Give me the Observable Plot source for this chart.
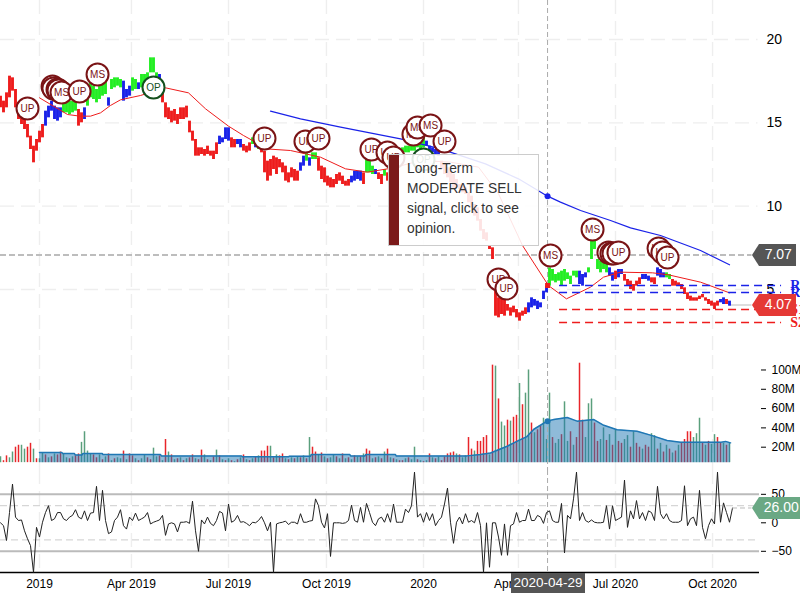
<!DOCTYPE html>
<html>
<head>
<meta charset="utf-8">
<script src="https://cdn.jsdelivr.net/npm/d3@7"></script>
<script src="https://cdn.jsdelivr.net/npm/@observablehq/plot@0.6"></script>
<style>
html,body{margin:0;padding:0;background:#fff}
#chart{position:relative;width:800px;height:600px;overflow:hidden;font-family:"Liberation Sans",Arial,sans-serif}
#tip{position:absolute;left:388px;top:154px;width:149px;height:90px;background:rgba(255,255,255,.88);border:1px solid #ccc;color:#333;font-size:13.8px;line-height:20px}
#tip i{position:absolute;left:0;top:0;bottom:0;width:10px;background:#7b1a1a}
#tip span{position:absolute;left:18px;top:4px;white-space:nowrap}
#date{position:absolute;left:511px;top:573px;width:74px;height:20px;background:#555;color:#fff;font-size:13.5px;line-height:20px;text-align:center}
</style>
</head>
<body>
<div id="chart">
<div id="tip"><i></i><span>Long-Term<br>MODERATE SELL<br>signal, click to see<br>opinion.</span></div>
<div id="date">2020-04-29</div>
</div>
<script>
// x is a session number; price, volume and oscillator are read every two sessions
const tickDays = [26, 87.3, 152, 217.3, 282, 345.3, 410, 474.7];
const tickLabels = ["2019","Apr 2019","Jul 2019","Oct 2019","2020","Apr 2020","Jul 2020","Oct 2020"];
const priceTicks = [5,10,15,20];
const volumeTicks = [20,40,60,80,100];
const oscTicks = [-50,0,50];

const lows = [
15.9,15.6,15.9,16.5,16.9,15.9,15.2,14.9,14.6,14.1,
13.4,12.6,13.3,13.8,14.1,14.8,15.3,15.7,15.2,15.1,
15.3,15.6,15.6,15.5,15.6,15.7,14.8,15.0,15.2,16.0,
16.5,16.4,16.2,16.4,16.6,16.7,16.0,17.0,17.1,17.2,
17.1,16.3,16.5,16.6,16.9,17.0,17.0,17.1,17.1,17.0,
18.0,18.0,17.4,17.0,16.2,15.3,15.2,15.0,15.1,14.9,
15.2,15.2,15.3,14.4,13.9,13.0,13.0,13.1,13.0,13.1,
13.0,12.8,13.1,13.7,13.8,14.0,13.9,13.5,13.5,13.7,
13.5,13.3,13.2,13.3,13.7,13.5,13.4,13.2,12.0,11.5,
11.8,12.2,11.9,12.3,12.0,11.5,11.4,11.7,11.5,11.5,
12.1,12.4,12.7,12.4,12.8,12.8,12.1,11.6,11.4,11.2,
11.1,11.1,11.3,11.5,11.3,11.2,11.2,11.4,11.5,11.6,
11.5,11.3,12.0,12.0,11.9,11.9,11.6,11.3,11.8,11.5,
11.4,11.3,11.5,13.0,13.0,13.2,13.2,13.3,13.3,13.5,
13.4,13.5,13.6,13.2,13.2,13.1,13.0,12.2,11.9,11.7,
11.4,11.0,11.1,11.0,10.8,10.7,10.2,9.9,9.4,9.1,
8.5,8.0,7.9,7.4,6.8,3.4,3.3,3.5,3.4,3.7,
3.4,3.6,3.3,3.1,3.4,3.5,3.6,3.9,4.0,3.8,
3.9,4.4,4.8,5.2,5.5,5.4,5.5,5.2,5.5,5.6,
5.3,5.8,5.7,5.3,5.2,5.7,6.0,6.8,7.4,6.2,
6.0,6.2,6.0,5.8,5.5,5.6,5.7,5.9,5.5,5.2,
5.0,4.9,5.2,5.3,5.6,5.6,5.5,5.4,5.3,5.8,
5.7,5.7,5.7,5.6,5.2,5.2,5.2,5.0,4.7,4.4,
4.3,4.3,4.3,4.4,4.5,4.3,4.1,4.0,3.8,4.0,
4.2,4.1,4.1,4.0];
const highs = [
16.6,16.3,16.8,17.8,17.7,17.0,16.2,15.6,15.3,14.9,
14.2,13.6,14.0,14.5,14.9,15.7,16.0,16.3,16.0,15.9,
15.9,16.1,16.2,16.3,16.3,16.4,15.8,15.6,15.9,17.2,
17.4,17.2,17.0,17.3,17.4,17.7,16.5,17.6,17.7,17.7,
17.6,17.5,17.0,17.2,17.7,17.6,17.4,17.9,17.9,18.0,
18.9,18.9,18.0,17.9,17.0,16.2,15.9,15.7,15.8,15.5,
15.9,15.9,16.0,15.1,14.5,14.0,13.5,13.5,13.4,13.6,
13.3,13.3,13.8,14.2,14.1,14.7,14.7,14.1,14.0,14.0,
14.0,13.7,13.6,13.8,14.1,13.9,13.7,13.6,13.3,12.7,
12.8,13.0,12.9,12.8,12.6,12.4,12.0,12.3,12.2,12.1,
12.6,13.0,13.2,12.9,13.2,13.2,12.9,12.4,12.3,11.8,
11.7,11.6,11.9,12.0,11.8,11.5,11.6,11.8,12.1,12.1,
12.1,12.0,12.9,12.7,12.4,12.2,12.0,11.9,12.2,12.0,
11.9,11.9,12.0,13.4,13.5,13.6,13.6,13.7,13.8,14.0,
14.0,14.1,13.9,13.6,13.5,13.4,13.3,12.7,12.5,12.3,
12.1,11.9,11.6,11.3,11.2,11.1,10.8,10.6,10.1,9.9,
9.2,8.6,8.4,7.6,7.5,4.9,4.5,4.7,4.5,4.1,
3.9,4.0,3.8,3.6,3.7,3.9,4.2,4.5,4.4,4.3,
4.2,4.9,5.2,6.3,6.2,5.9,6.0,6.1,6.2,6.0,
5.8,6.1,6.1,6.1,5.9,6.0,6.3,8.0,7.9,6.8,
6.7,6.8,6.5,6.3,6.0,6.1,6.2,6.2,5.9,5.6,
5.5,5.3,5.5,5.7,5.9,5.9,5.8,5.7,5.7,6.3,
6.2,6.0,6.0,5.9,5.6,5.5,5.4,5.3,5.1,4.8,
4.6,4.5,4.5,4.6,4.7,4.5,4.4,4.3,4.2,4.3,
4.4,4.5,4.4,4.3];
const trendRuns = [["r",15],["b",6],["g",5],["r",2],["b",1],["g",7],["b",1],["g",4],["b",3],["g",2],["b",1],["g",6],["b",1],["r",19],["b",4],["r",2],["b",2],["r",3],["g",1],["b",1],["g",1],["r",13],["b",2],["g",1],["b",1],["g",2],["r",11],["b",4],["r",1],["g",3],["b",1],["r",2],["g",1],["r",4],["g",9],["b",5],["r",29],["b",7],["g",10],["b",3],["g",7],["b",2],["r",1],["b",2],["r",6],["b",3],["r",2],["b",3],["g",2],["r",16],["b",2],["r",1],["b",1]];

const shortAvgDays = [26,44.7,53,60,66.7,73.3,80,93.3,110,125.3,136.7,152,162,170,176.7,193.3,213.3,230,244.7,262,280,300,318.7,332,348,365.3,377.3,393.3,402,413.3,434.7,445.3,466.7,486];
const shortAvgVals = [16.5,15.5,15.4,15.4,15.6,16.04,16.38,16.64,17.1,16.8,15.84,14.8,14.24,13.84,13.44,13.34,12.94,12.24,12.04,12.3,12.74,12.64,12.34,10.74,7.64,5.24,4.44,5.14,5.74,6.04,6.0,5.88,5.44,4.8];
const longAvgDays = [180,200,226.7,266.7,293.3,323.3,345.3,364.7,373.3,386.7,406.7,420,440,466.7,486];
const longAvgVals = [15.7,15.24,14.74,14.04,13.44,12.54,11.64,10.6,10.24,9.74,9.14,8.7,8.24,7.34,6.48];

const levelNames = ["R2","R1","S1","S2"];
const levelValues = [5.24,4.82,3.8,3.02];
const levelColors = ["#1a22e8","#1a22e8","#ee1c1c","#ee1c1c"];

const markDays = [18,34.7,35.3,38,38.7,40.7,52.7,64.7,102,176,203.3,212,247.3,258,262,275.3,278,282,286.7,296,332,337.3,366.7,394.7,405.3,407.3,408.7,412,438.7,441.3,444.7];
const markVals = [15.86,17.18,17.06,17,16.94,16.82,16.88,17.9,17.12,14.06,13.88,14.06,13.4,13.22,12.92,14.3,14.72,12.8,14.84,13.88,5.6,5.06,7.04,8.6,7.22,7.16,7.16,7.22,7.46,7.22,6.92];
const markLabels = ["UP","UP","UP","UP","UP","MS","UP","MS","OP","UP","UP","UP","UP","UP","UP","MS","MS","OP","MS","UP","UP","UP","MS","MS","UP","UP","UP","UP","UP","UP","UP"];

const volumes = [
10,6,11,9,15,20,22,22,18,20,
24,18,8,8,14,12,9,10,13,12,
15,13,9,8,10,11,13,25,36,16,
13,12,9,12,7,10,13,6,8,9,
8,16,7,13,11,8,6,8,12,9,
7,19,10,11,6,28,15,12,7,8,
9,6,8,9,12,8,7,17,12,7,
6,10,17,11,7,6,8,6,5,7,
9,12,7,6,8,10,11,16,16,21,
21,9,12,11,13,8,7,9,8,10,
9,11,8,30,20,15,12,14,10,8,
9,12,10,8,13,8,9,7,11,10,
10,13,18,16,8,9,10,8,15,18,
9,8,7,6,6,8,9,7,20,7,
6,5,6,13,9,8,10,6,10,13,
14,15,13,12,9,11,30,18,16,26,
26,30,32,12,105,104,70,46,42,48,
47,51,53,86,64,76,100,45,35,38,
42,50,28,76,30,24,28,33,67,26,
36,22,30,107,48,30,65,70,45,26,
28,40,27,33,22,38,26,24,28,32,
20,36,24,20,18,22,20,34,32,18,
24,15,22,18,14,16,22,24,28,36,
36,30,34,50,24,22,26,23,33,30,
24,24,22,24];
const volumeDir = ("grrggrrggr rgrggrgrgr rggrgrrggg grrgrgrgrg grgrrgrggr " +
"rggrgrgrgr grgrrgrrgr grgrgrgrgr grgrgrgrrr grgrrgrgrg " +
"rgrgrrgrgr ggrgrgrgrg rgrrgrgrgr grgrrgrggr grgrgrgrrr " +
"rrgrggrrgr rrrgrgrggr grrgrggrgr rgggrggrgg rgrrrgggrr " +
"ggrgrgrrgg rgrrgrrggr grgrgrgrrr rgggrgrggr rgrg").replace(/ /g,"");
const volAvgDays = [26,41,41.5,49.3,49.8,54.4,54.9,67.8,68.3,106.7,107.2,160.7,161.2,192,192.5,206.7,207.2,232.9,233.4,243,243.5,263.3,263.8,311,320,326.7,330,337.8,345.6,351,355.6,364.4,368.9,377.8,384.4,395.6,402.2,411.1,424.4,434.4,444.4,453.3,480,483.3,486.7];
const volAvgVals = [14.4,14.4,13.4,13.4,12,12,13.4,13.4,12.4,12.4,11,11,10,10,10.6,10.6,12.4,12.4,11,11,12.4,12.4,11,11,12.4,14,16,21,27,31,38.6,47,48.6,50.7,47,48.6,42.7,38,36.5,32,27,25,25,26,24.5];

const oscValues = [
0,-5,-31,18,68,10,4,5,-14,-28,
-40,-87,-8,-25,1,18,30,4,7,18,
18,7,4,10,13,23,10,7,21,4,
17,18,64,4,57,4,-19,-16,4,10,
23,-5,-11,10,4,17,4,7,10,18,
-2,1,3,5,13,-22,-2,0,-2,-16,
1,1,2,-1,38,-14,-50,5,-2,10,
-1,-5,4,20,17,-14,33,1,4,13,
1,2,-1,-5,1,0,4,11,0,-14,
1,-87,-2,0,1,3,-3,1,1,-2,
16,1,1,3,4,42,30,1,-9,16,
-59,0,0,0,-1,0,4,31,4,1,
27,1,34,18,1,-5,7,10,1,16,
1,33,1,1,1,24,18,30,89,10,
16,1,18,4,16,-5,4,10,33,61,
1,-36,1,10,-2,16,1,4,0,18,
-5,-87,0,-78,0,0,-25,-57,-2,-57,
-5,-2,18,1,4,4,24,4,4,13,
10,-1,18,21,4,1,1,34,-53,13,
7,42,89,4,18,4,1,5,1,0,
0,1,30,-11,30,4,7,10,75,-8,
21,7,39,7,18,4,21,18,4,64,
16,7,16,4,1,1,1,4,65,-5,
7,10,-5,57,-8,-28,-5,7,-2,89,
1,35,18,1,26];

const crossDay = 364.7;
const crossLong = 10.6, crossShort = 5.24, crossVolume = 47;
const lastPrice = 4.07, linePrice = 7.07, lastOsc = 26;
const tagDay = 501;
const lastDay = 486;

// ---------- tables built from the arrays
const trend = trendRuns.flatMap(([c,n]) => Array(n).fill(c));
const bars = lows.map((lo,i) => ({day:i*2, lo, hi:highs[i], c:trend[i]}));
const vols = volumes.map((v,i) => ({day:i*2, v, c:volumeDir[i]}));
const oscs = oscValues.map((v,i) => ({day:i*2, v}));
const zip = (a,b) => a.map((d,i) => ({d, v:b[i]}));
const shortAvg = zip(shortAvgDays, shortAvgVals);
const longAvg = zip(longAvgDays, longAvgVals);
const volAvg = zip(volAvgDays, volAvgVals);

// ---------- shared pieces
const X = {domain:[0,533.33], range:[0,800], axis:null};
const MARK = "#7a1416";
const gridX = () => Plot.ruleX(tickDays, {stroke:"#eee", strokeWidth:1.4, strokeDasharray:"14,7"});
const cross = () => Plot.ruleX([crossDay], {stroke:"#aaa", strokeDasharray:"5,3", strokeWidth:1});
const tag = w => ({draw(c){ c.moveTo(0,0); c.lineTo(7,-11); c.lineTo(w,-11); c.lineTo(w,11); c.lineTo(7,11); c.closePath(); }});
const base = top => ({
  width:800, x:X, marginLeft:0, marginTop:0,
  style:{position:"absolute", left:"0px", top:top+"px", fontFamily:"'Liberation Sans',Arial,sans-serif", fontSize:"12px", background:"transparent", overflow:"hidden", color:"#000"}
});

// ---------- price pane
const markMarks = markDays.flatMap((d,i) => {
  const col = markLabels[i]==="OP" ? "#14501e" : MARK;
  const row = [{d, v:markVals[i], t:markLabels[i]}];
  return [
    Plot.dot(row, {x:"d", y:"v", r:11, fill:"white", stroke:col, strokeWidth:2}),
    Plot.text(row, {x:"d", y:"v", text:"t", fill:col, fontSize:10})
  ];
});
const price = Plot.plot({
  ...base(0), height:355, marginRight:43, marginBottom:0,
  y:{domain:[1.04,22.34], range:[355,0], axis:null},
  color:{domain:["r","g","b"], range:["#ee1c1c","#22ee22","#1a22e8"]},
  marks:[
    gridX(),
    Plot.ruleY(priceTicks, {x1:0, x2:505, stroke:"#eee", strokeWidth:1.4, strokeDasharray:"14,7"}),
    Plot.axisY(priceTicks, {anchor:"right", label:null, tickSize:0, tickPadding:9, fontSize:14}),
    Plot.ruleY([linePrice], {x1:0, x2:tagDay, stroke:"#bdbdbd", strokeWidth:2, strokeDasharray:"6,3"}),
    Plot.ruleY([lastPrice], {x1:lastDay, x2:tagDay, stroke:"#bbb", strokeWidth:1}),
    cross(),
    Plot.ruleX(bars, {x:"day", y1:"lo", y2:"hi", stroke:"c", strokeWidth:2.9}),
    Plot.line(shortAvg, {x:"d", y:"v", stroke:"#ee1c1c", strokeWidth:1}),
    Plot.line(longAvg, {x:"d", y:"v", stroke:"#1a22e8", strokeWidth:1.2}),
    Plot.dot([{d:crossDay, v:crossLong}], {x:"d", y:"v", r:3, fill:"#1a22e8"}),
    Plot.dot([{d:crossDay, v:crossShort}], {x:"d", y:"v", r:2.8, symbol:"square", fill:"#ee1c1c"}),
    ...levelValues.map((v,i) => Plot.ruleY([v], {x1:372.7, x2:520.7, stroke:levelColors[i], strokeWidth:1.6, strokeDasharray:"8,5"})),
    Plot.text(levelNames, {x:526.5, y:(d,i)=>levelValues[i], text:d=>d, textAnchor:"start", fill:(d,i)=>levelColors[i], fontFamily:"'Liberation Serif',serif", fontWeight:"bold", fontSize:14}),
    ...markMarks,
    Plot.dot([linePrice], {x:()=>tagDay, y:d=>d, symbol:tag(44), fill:"#555", r:5}),
    Plot.dot([lastPrice], {x:()=>tagDay, y:d=>d, symbol:tag(44), fill:"#e53935", r:5}),
    Plot.text([linePrice], {x:()=>tagDay+17.5, y:d=>d, text:d=>d.toFixed(2), fill:"white", fontSize:14}),
    Plot.text([lastPrice], {x:()=>tagDay+17.5, y:d=>d, text:d=>d.toFixed(2), fill:"white", fontSize:14})
  ]
});

// ---------- volume pane
const volume = Plot.plot({
  ...base(355), height:115, marginRight:40, marginBottom:0,
  y:{domain:[-4.15,115], range:[115,0], axis:null},
  color:{domain:["r","g"], range:["#e8252a","#5a9f7c"]},
  marks:[
    gridX(),
    Plot.axisY(volumeTicks, {anchor:"right", label:null, tickSize:5, tickPadding:6, tickFormat:d=>d+"M"}),
    Plot.ruleX(vols, {x:"day", y1:()=>4, y2:"v", stroke:"c", strokeWidth:1.5}),
    Plot.areaY(volAvg, {x:"d", y1:()=>4, y2:"v", fill:"#1f77b4", fillOpacity:0.5}),
    Plot.line(volAvg, {x:"d", y:"v", stroke:"#1f77b4", strokeWidth:1.5}),
    cross(),
    Plot.dot([{d:crossDay, v:crossVolume}], {x:"d", y:"v", r:3, fill:"#1f77b4"})
  ]
});

// ---------- oscillator pane
const osc = Plot.plot({
  ...base(470), height:130, marginRight:40, marginBottom:28,
  y:{domain:[-87.2,91.8], range:[102,0], axis:null},
  marks:[
    gridX(),
    Plot.ruleY([50,-50], {x1:0, x2:506, stroke:"#bbb", strokeWidth:2}),
    Plot.ruleY([30,-30], {x1:0, x2:506, stroke:"#ccc", strokeDasharray:"7,4", strokeWidth:1}),
    Plot.axisY(oscTicks, {anchor:"right", label:null, tickSize:5, tickPadding:6}),
    Plot.ruleY([-87.2], {x1:0, x2:506, stroke:"#000", strokeWidth:1.5}),
    Plot.axisX(tickDays, {anchor:"bottom", label:null, tickSize:0, tickPadding:7, tickFormat:d=>tickLabels[tickDays.indexOf(d)]}),
    cross(),
    Plot.line(oscs, {x:"day", y:"v", stroke:"#222", strokeWidth:1}),
    Plot.ruleY([lastOsc], {x1:488, x2:tagDay, stroke:"#bbb", strokeDasharray:"5,3"}),
    Plot.dot([lastOsc], {x:()=>tagDay, y:d=>d, symbol:tag(48), fill:"#6aa884", r:5}),
    Plot.text([lastOsc], {x:()=>tagDay+19.5, y:d=>d, text:d=>d.toFixed(2), fill:"white", fontSize:14})
  ]
});

const chart = document.getElementById("chart");
const first = chart.firstChild;
chart.insertBefore(price, first);
chart.insertBefore(volume, first);
chart.insertBefore(osc, first);
</script>
</body>
</html>
